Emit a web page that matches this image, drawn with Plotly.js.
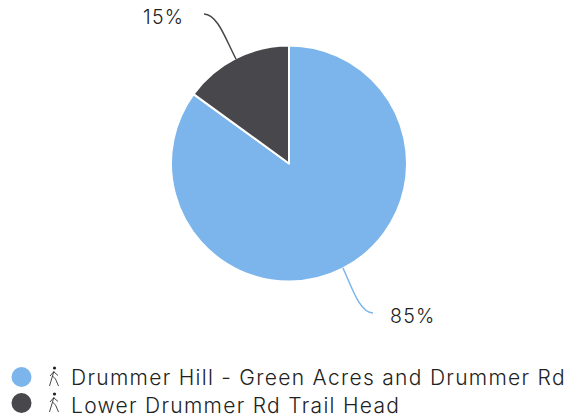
<!DOCTYPE html>
<html><head><meta charset="utf-8">
<script src="https://cdn.plot.ly/plotly-3.0.0.min.js"></script>
<style>html,body{margin:0;padding:0;background:#fff}#c{width:570px;height:418px}
.annotation-text{letter-spacing:1.3px}</style></head>
<body><div id="c"></div>
<script>
const categories = ["Drummer Hill - Green Acres and Drummer Rd", "Lower Drummer Rd Trail Head"];
const values = [85, 15];
const colors = ["#7cb5ec", "#47474c"];
const W = 570, H = 418;
const px = x => x / W, py = y => 1 - y / H;
const fontFam = "Inter, 'Open Sans', sans-serif";
const legendY = [376, 404];
const markerY = [377, 403];
const labelPos = [[413, 316], [163, 17]];
const connectors = [
  [[343, 268], [352, 288], [360, 313], [373, 313]],
  [[236, 59], [225, 38], [218, 15], [204, 14]]
];
const icon = "data:image/svg+xml," + encodeURIComponent(
 '<svg xmlns="http://www.w3.org/2000/svg" width="18" height="24" viewBox="0 0 18 24">' +
 '<circle cx="9.5" cy="3" r="1.6" fill="#222"/>' +
 '<path d="M9 6 L7.5 11 L4.5 21 M7.5 11 L10.5 14 L13.5 21 M8.5 7 L5 11 M9 7 L13 10.5" fill="none" stroke="#333" stroke-width="0.9"/></svg>');

const shapes = [], annotations = [], images = [];
categories.forEach((c, i) => {
  shapes.push({type: "circle", xref: "paper", yref: "paper",
    x0: px(11.5), x1: px(31.5), y0: py(markerY[i] + 10), y1: py(markerY[i] - 10),
    fillcolor: colors[i], line: {width: 0}});
  images.push({source: icon, xref: "paper", yref: "paper", x: px(45), y: py(markerY[i] - 12),
    sizex: 18 / W, sizey: 24 / H, xanchor: "left", yanchor: "top", sizing: "contain"});
  annotations.push({xref: "paper", yref: "paper", x: px(69), y: py(legendY[i] + 1), text: c,
    showarrow: false, xanchor: "left", yanchor: "middle",
    font: {family: fontFam, size: 21, weight: 300, color: "#222"}});
  annotations.push({xref: "paper", yref: "paper", x: px(labelPos[i][0]), y: py(labelPos[i][1]),
    text: values[i] + "%", showarrow: false, xanchor: "center", yanchor: "middle",
    font: {family: fontFam, size: 19.5, weight: 300, color: "#222"}});
  const p = connectors[i].map(q => px(q[0]) + "," + py(q[1]));
  shapes.push({type: "path", xref: "paper", yref: "paper",
    path: `M${p[0]} C${p[1]} ${p[2]} ${p[3]}`, line: {color: colors[i], width: 1.5}});
});

Plotly.newPlot("c", [{
  type: "pie", labels: categories, values: values, sort: false, direction: "clockwise", rotation: 0,
  marker: {colors: colors, line: {color: "#fff", width: 2}},
  textinfo: "none", hoverinfo: "none", showlegend: false,
  domain: {x: [px(171), px(407)], y: [py(281.5), py(45.5)]}
}], {
  width: W, height: H, margin: {l: 0, r: 0, t: 0, b: 0},
  paper_bgcolor: "#fff", showlegend: false,
  shapes: shapes, annotations: annotations, images: images
}, {displayModeBar: false, staticPlot: true});
</script></body></html>
